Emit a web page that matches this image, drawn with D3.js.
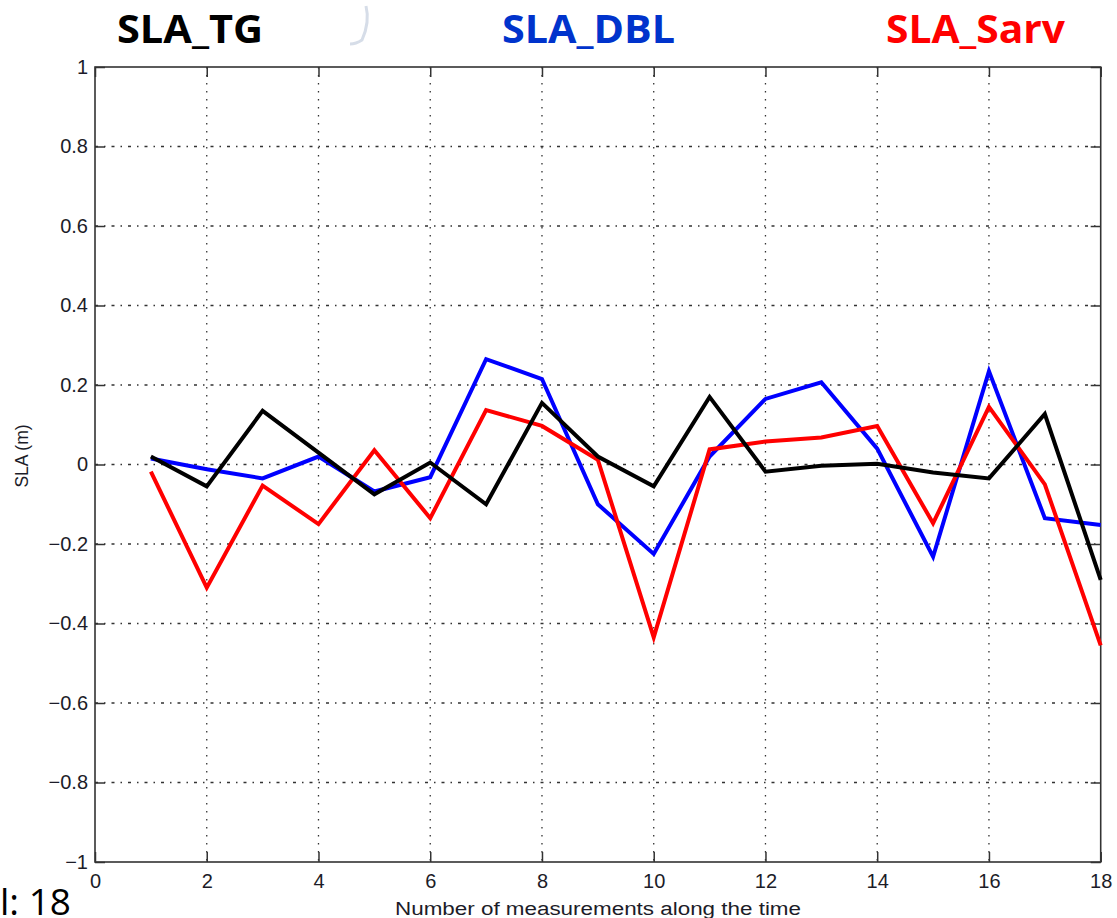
<!DOCTYPE html>
<html>
<head>
<meta charset="utf-8">
<script src="https://cdn.jsdelivr.net/npm/d3@7"></script>
<style>
  html, body { margin: 0; padding: 0; background: #fff; }
  svg { display: block; }
</style>
</head>
<body>
<svg id="chart" width="1117" height="918"></svg>
<script>
// Measurement index along the time axis
const measurements = d3.range(1, 19);

// Sea level anomaly series (m)
const slaTG   = [0.02, -0.055, 0.135, 0.03, -0.075, 0.005, -0.1, 0.155, 0.02, -0.055, 0.17, -0.018, -0.003, 0.002, -0.02, -0.035, 0.127, -0.29];
const slaDBL  = [0.015, -0.012, -0.035, 0.02, -0.068, -0.032, 0.265, 0.215, -0.1, -0.225, 0.02, 0.165, 0.207, 0.04, -0.232, 0.235, -0.135, -0.152];
const slaSarv = [-0.018, -0.31, -0.053, -0.15, 0.036, -0.135, 0.137, 0.097, 0.012, -0.435, 0.038, 0.058, 0.068, 0.097, -0.148, 0.145, -0.05, -0.455];

// Axis ticks
const xTicks = [0, 2, 4, 6, 8, 10, 12, 14, 16, 18];
const yTicks = [-1, -0.8, -0.6, -0.4, -0.2, 0, 0.2, 0.4, 0.6, 0.8, 1];

const seriesNames  = ["SLA_TG", "SLA_DBL", "SLA_Sarv"];
const seriesColors = ["#000000", "#0000ff", "#ff0000"];
const titleColors  = ["#000000", "#0033cc", "#ff0000"];

const svg = d3.select("#chart");
const plotLeft = 95, plotRight = 1100.7, plotTop = 67, plotBottom = 862;

const x = d3.scaleLinear().domain([0, 18]).range([plotLeft, plotRight]);
const y = d3.scaleLinear().domain([-1, 1]).range([plotBottom, plotTop]);

// Grid lines
const grid = svg.append("g");
grid.selectAll("line.vg").data(xTicks.slice(1, -1)).join("line")
  .attr("x1", d => x(d)).attr("x2", d => x(d))
  .attr("y1", plotTop).attr("y2", plotBottom)
  .attr("stroke", "#333").attr("stroke-width", 1.3)
  .attr("stroke-dasharray", "1.5,6.5");
grid.selectAll("line.hg").data(yTicks.slice(1, -1)).join("line")
  .attr("x1", plotLeft).attr("x2", plotRight)
  .attr("y1", d => y(d)).attr("y2", d => y(d))
  .attr("stroke", "#333").attr("stroke-width", 1.3)
  .attr("stroke-dasharray", "3,6,1.5,6");

// Axes with inward ticks
const tickLen = 10;
const xAxisB = d3.axisBottom(x).tickValues(xTicks).tickSizeInner(-tickLen).tickSizeOuter(0).tickPadding(12).tickFormat(d3.format("d"));
const xAxisT = d3.axisTop(x).tickValues(xTicks).tickSizeInner(-tickLen).tickSizeOuter(0).tickFormat("");
const fmtY = d => ((d === 0 || Math.abs(d) === 1) ? d3.format("d")(d) : d3.format(".1f")(d)).replace("-", "\u2212");
const yAxisL = d3.axisLeft(y).tickValues(yTicks).tickSizeInner(-tickLen).tickSizeOuter(0).tickPadding(7).tickFormat(fmtY);
const yAxisR = d3.axisRight(y).tickValues(yTicks).tickSizeInner(-tickLen).tickSizeOuter(0).tickFormat("");

function styleAxis(g) {
  g.select(".domain").remove();
  g.selectAll(".tick line").attr("stroke", "#333").attr("stroke-width", 1.5);
  g.selectAll(".tick text").attr("fill", "#1c1c28")
    .style("font-family", "'Liberation Sans', Arial, sans-serif").style("font-size", "20px");
}
svg.append("g").attr("transform", `translate(0,${plotBottom})`).call(xAxisB).call(styleAxis);
svg.append("g").attr("transform", `translate(0,${plotTop})`).call(xAxisT).call(styleAxis);
svg.append("g").attr("transform", `translate(${plotLeft},0)`).call(yAxisL).call(styleAxis);
svg.append("g").attr("transform", `translate(${plotRight},0)`).call(yAxisR).call(styleAxis);

// Plot frame
svg.append("rect")
  .attr("x", plotLeft).attr("y", plotTop)
  .attr("width", plotRight - plotLeft).attr("height", plotBottom - plotTop)
  .attr("fill", "none").attr("stroke", "#333").attr("stroke-width", 1.6);

// Series lines: DBL, Sarv, then TG on top
const line = d3.line().x((d, i) => x(measurements[i])).y(d => y(d));
const seriesData = [slaTG, slaDBL, slaSarv];
[1, 2, 0].forEach(k => {
  svg.append("path")
    .datum(seriesData[k])
    .attr("d", line)
    .attr("fill", "none")
    .attr("stroke", seriesColors[k])
    .attr("stroke-width", 4)
    .attr("stroke-linejoin", "miter");
});

// Axis titles
svg.append("text")
  .attr("x", 395).attr("y", 915)
  .attr("fill", "#1c1c28")
  .attr("textLength", 406).attr("lengthAdjust", "spacingAndGlyphs")
  .style("font-family", "'Liberation Sans', Arial, sans-serif").style("font-size", "18px")
  .text("Number of measurements along the time");

svg.append("text")
  .attr("transform", `translate(28,456) rotate(-90)`)
  .attr("text-anchor", "middle")
  .attr("fill", "#1c1c28")
  .style("font-family", "'Liberation Sans', Arial, sans-serif").style("font-size", "17.5px")
  .text("SLA (m)");

// Series titles above the plot
const titleX = [117, 502, 886];
const titleW = [146, 173, 179];
seriesNames.forEach((name, k) => {
  svg.append("text")
    .attr("x", titleX[k]).attr("y", 43)
    .attr("fill", titleColors[k])
    .attr("textLength", titleW[k]).attr("lengthAdjust", "spacingAndGlyphs")
    .style("font-family", "'Open Sans', 'Noto Sans', sans-serif")
    .style("font-weight", "bold").style("font-size", "40px")
    .text(name);
});

// Faint stroke near the first title
svg.append("path")
  .attr("d", "M366,6 Q370,22 362,40 Q356,44 350,44")
  .attr("fill", "none").attr("stroke", "#d6dde8").attr("stroke-width", 3);

// Partial caption at the lower left
svg.append("text")
  .attr("x", 0).attr("y", 915)
  .attr("fill", "#000")
  .style("font-family", "'Open Sans', 'Noto Sans', sans-serif").style("font-size", "37px")
  .text("l: 18");
</script>
</body>
</html>
